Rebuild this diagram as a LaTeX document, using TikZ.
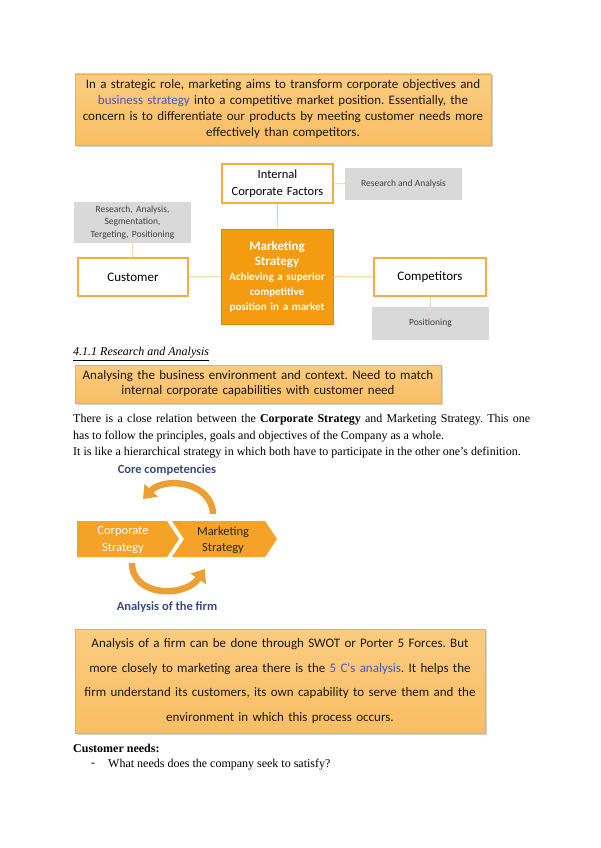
\documentclass[tikz,border=0pt]{standalone}
\usepackage{fontspec}
\setmainfont{Liberation Serif}
\newfontfamily\calibri{Carlito}
\usepackage{xcolor}
\usetikzlibrary{positioning,arrows.meta,shadows}
\frenchspacing
\definecolor{noteedge}{RGB}{247,172,62}
\definecolor{notetop}{RGB}{250,204,128}
\definecolor{notebot}{RGB}{249,190,100}
\definecolor{msfill}{RGB}{245,155,15}
\definecolor{msedge}{RGB}{226,132,0}
\definecolor{linkcol}{RGB}{250,200,140}
\definecolor{greybox}{RGB}{217,217,217}
\definecolor{greytext}{RGB}{64,64,64}
\definecolor{chevfill}{RGB}{244,163,40}
\definecolor{cycfill}{RGB}{234,160,52}
\definecolor{slateblue}{RGB}{59,74,126}
\definecolor{hiblue}{RGB}{70,90,190}

\begin{document}
\begin{tikzpicture}[x=1pt, y=-1pt,
  note/.style={draw=noteedge, line width=0.8pt, top color=notetop, bottom color=notebot,
               drop shadow={shadow xshift=1.5pt, shadow yshift=-1.5pt, opacity=0.35},
               align=center, inner sep=0pt, text=black!90},
  factor/.style={draw=noteedge, line width=1.2pt, fill=white, align=center,
                 inner sep=0pt, font=\calibri\fontsize{13}{16.5}\selectfont},
  info/.style={fill=greybox, align=center, inner sep=0pt, text=greytext,
               font=\calibri\fontsize{9.5}{12.5}\selectfont},
  link/.style={draw=linkcol, line width=0.9pt},
  cyc/.style={draw=cycfill, line width=6.5pt, -{Triangle[width=18pt, length=12pt]}},
  chev/.style={fill=chevfill},
  body/.style={anchor=west, inner sep=0pt, font=\fontsize{12}{14}\selectfont}
]
  \useasboundingbox (0,0) rectangle (600,848);

  % opening statement
  \node[note, minimum width=416pt, minimum height=71pt, text width=412pt,
        font=\calibri\fontsize{13}{16}\selectfont] (intro) at (283,109.5)
    {In a strategic role, marketing aims to transform corporate objectives and\\
     {\color{hiblue}business strategy} into a competitive market position. Essentially, the\\
     concern is to differentiate our products by meeting customer needs more\\
     effectively than competitors.};

  % marketing strategy and its factors
  \node[draw=msedge, line width=0.9pt, fill=msfill, text=white, align=center,
        minimum width=112pt, minimum height=95pt, text width=110pt, inner sep=0pt,
        font=\calibri\bfseries\fontsize{11}{15}\selectfont] (ms) at (277,276.5)
    {{\fontsize{13}{15}\selectfont Marketing}\\
     {\fontsize{13}{15}\selectfont Strategy}\\
     Achieving a superior\\ competitive\\ position in a market};
  \node[factor, minimum width=111pt, minimum height=39pt, text width=109pt,
        font=\calibri\fontsize{12.5}{16.5}\selectfont] (icf) at (277.5,183.5)
    {Internal\\Corporate Factors};
  \node[factor, minimum width=110pt, minimum height=38pt] (cust) at (133,277) {Customer};
  \node[factor, minimum width=112pt, minimum height=38pt] (comp) at (430,277) {Competitors};

  \node[info, minimum width=117pt, minimum height=32pt] (resan) at (403.5,184)
    {Research and Analysis};
  \node[info, minimum width=117pt, minimum height=41pt, text width=115pt] (custinfo) at (132.5,222.5)
    {Research, Analysis,\\Segmentation,\\Tergeting, Positioning};
  \node[info, minimum width=117pt, minimum height=33pt] (posit) at (430.5,323.5) {Positioning};

  \draw[link] (icf) -- (ms);
  \draw[link] (icf) -- (resan);
  \draw[link] (custinfo) -- (cust);
  \draw[link] (cust) -- (ms);
  \draw[link] (ms) -- (comp);
  \draw[link] (comp) -- (posit);

  % research and analysis section
  \node[body] (head) at (73,354) {\underline{\textit{4.1.1 Research and Analysis}}};
  \node[note, minimum width=366pt, minimum height=38pt, text width=360pt,
        font=\calibri\fontsize{13}{15}\selectfont] (envir) at (258,384)
    {Analysing the business environment and context. Need to match\\
     internal corporate capabilities with customer need};
  \node[body] (para1) at (73,420)
    {\makebox[457pt][s]{There is a close relation between the \textbf{Corporate Strategy} and Marketing Strategy. This one}};
  \node[body] (para2) at (73,437)
    {has to follow the principles, goals and objectives of the Company as a whole.};
  \node[body] (para3) at (73,453)
    {It is like a hierarchical strategy in which both have to participate in the other one's definition.};

  % corporate / marketing cycle
  \fill[chev] (77,521) -- (167,521) -- (179,539) -- (167,557) -- (77,557) -- cycle;
  \fill[chev] (172,521) -- (265,521) -- (277,539) -- (265,557) -- (172,557) -- (184,539) -- cycle;
  \node[align=center, text=white, font=\calibri\fontsize{12.5}{16.5}\selectfont] (corp) at (123,540)
    {Corporate\\Strategy};
  \node[align=center, text=black!85, font=\calibri\fontsize{12.5}{16.5}\selectfont] (mkt) at (223,540)
    {Marketing\\Strategy};
  \node[text=slateblue, font=\calibri\bfseries\fontsize{12.5}{15}\selectfont] (core) at (167,470)
    {Core competencies};
  \node[text=slateblue, font=\calibri\bfseries\fontsize{12.5}{15}\selectfont] (firm) at (167,607)
    {Analysis of the firm};
  \draw[cyc] (213,514) .. controls (212,482) and (165,476) .. (143,499);
  \draw[cyc] (132,563) .. controls (132,597) and (185,598) .. (205,569);

  % five c's note
  \node[note, minimum width=410pt, minimum height=104pt, text width=406pt,
        font=\calibri\fontsize{13}{24.5}\selectfont] (fivec) at (280,681)
    {Analysis of a firm can be done through SWOT or Porter 5 Forces. But\\
     more closely to marketing area there is the {\color{hiblue}5 C's analysis}. It helps the\\
     firm understand its customers, its own capability to serve them and the\\
     environment in which this process occurs.};

  \node[body] (needs) at (73,748) {\textbf{Customer needs:}};
  \node[body] (dash) at (91,765) {-};
  \node[body] (q1) at (108,765) {What needs does the company seek to satisfy?};
\end{tikzpicture}
\end{document}
